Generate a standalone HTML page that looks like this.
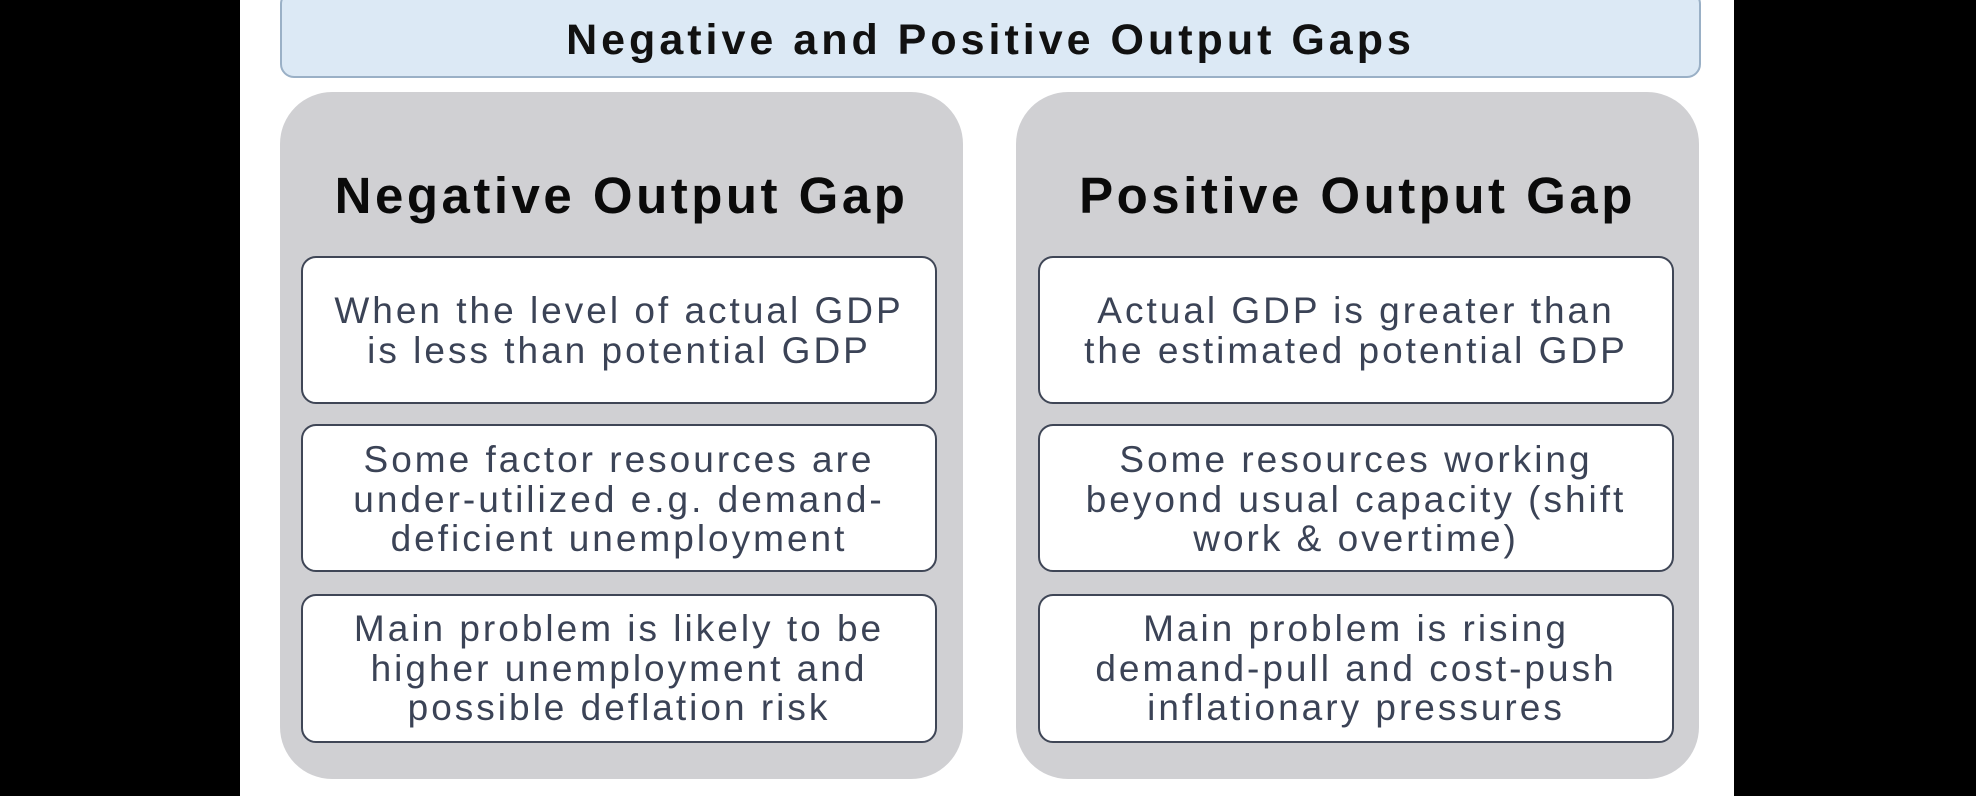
<!DOCTYPE html>
<html><head><style>
body{margin:0;width:1976px;height:796px;background:#000;position:relative;overflow:hidden;font-family:"Liberation Sans",sans-serif}
.page{position:absolute;left:240px;top:0;width:1494px;height:796px;background:#fff}
.title{position:absolute;left:280px;top:-10px;width:1417px;height:84px;background:#dce9f5;border:2px solid #9ab0c6;border-radius:14px;text-align:center;line-height:96px;font-weight:bold;font-size:43px;letter-spacing:4px;color:#111;white-space:nowrap}
.panel{position:absolute;top:92px;width:683px;height:687px;background:#d0d0d3;border-radius:52px}
.hdr{position:absolute;text-align:center;font-weight:bold;font-size:51px;letter-spacing:3.5px;color:#0a0a0a;white-space:nowrap}
.box{position:absolute;width:636px;background:#fff;border:2.5px solid #3f4656;border-radius:15px;box-sizing:border-box;text-align:center;color:#3b4356;font-size:37px;letter-spacing:3px;line-height:39.5px;white-space:nowrap}
</style></head><body>
<div class="page"></div>
<div class="title">Negative and Positive Output Gaps</div>
<div class="panel" style="left:280px"></div>
<div class="panel" style="left:1016px"></div>
<div class="hdr" style="left:280px;width:683px;top:166px;line-height:60px">Negative Output Gap</div>
<div class="hdr" style="left:1016px;width:683px;top:166px;line-height:60px">Positive Output Gap</div>

<div class="box" style="left:301px;top:256px;height:148px;padding-top:33px">When the level of actual GDP<br>is less than potential GDP</div>
<div class="box" style="left:301px;top:424px;height:148px;padding-top:14px">Some factor resources are<br>under-utilized e.g. demand-<br>deficient unemployment</div>
<div class="box" style="left:301px;top:594px;height:149px;padding-top:13px">Main problem is likely to be<br>higher unemployment and<br>possible deflation risk</div>

<div class="box" style="left:1038px;top:256px;height:148px;padding-top:33px">Actual GDP is greater than<br>the estimated potential GDP</div>
<div class="box" style="left:1038px;top:424px;height:148px;padding-top:14px">Some resources working<br>beyond usual capacity (shift<br>work &amp; overtime)</div>
<div class="box" style="left:1038px;top:594px;height:149px;padding-top:13px">Main problem is rising<br>demand-pull and cost-push<br>inflationary pressures</div>
</body></html>
